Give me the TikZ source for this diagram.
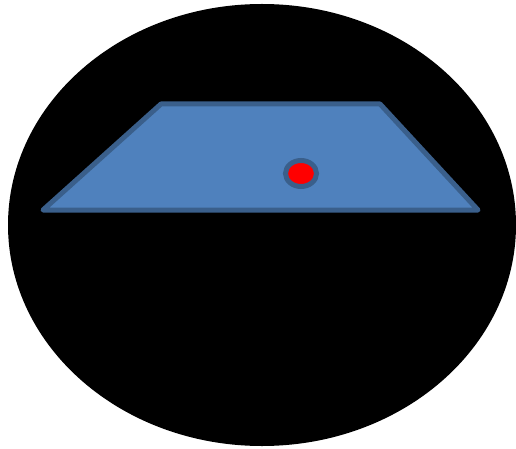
\documentclass[tikz,border=0pt]{standalone}
\definecolor{tableblue}{HTML}{4F81BD}
\definecolor{tableedge}{HTML}{3A5F8B}
\begin{document}
\begin{tikzpicture}[x=1pt, y=-1pt,
    plate/.style={fill=tableblue, draw=tableedge, line width=5pt, line join=round},
    spot/.style={fill=red, draw=tableedge, line width=5pt}]

  \useasboundingbox (0,0) rectangle (516,449);

  % Black disc
  \fill[black] (262,225) ellipse [x radius=254, y radius=221];

  % Table top
  \draw[plate] (161,104) -- (380,104) -- (478,210) -- (43,210) -- cycle;

  % Red spot
  \draw[spot] (301,173.5) ellipse [x radius=15.5, y radius=13];
\end{tikzpicture}
\end{document}
